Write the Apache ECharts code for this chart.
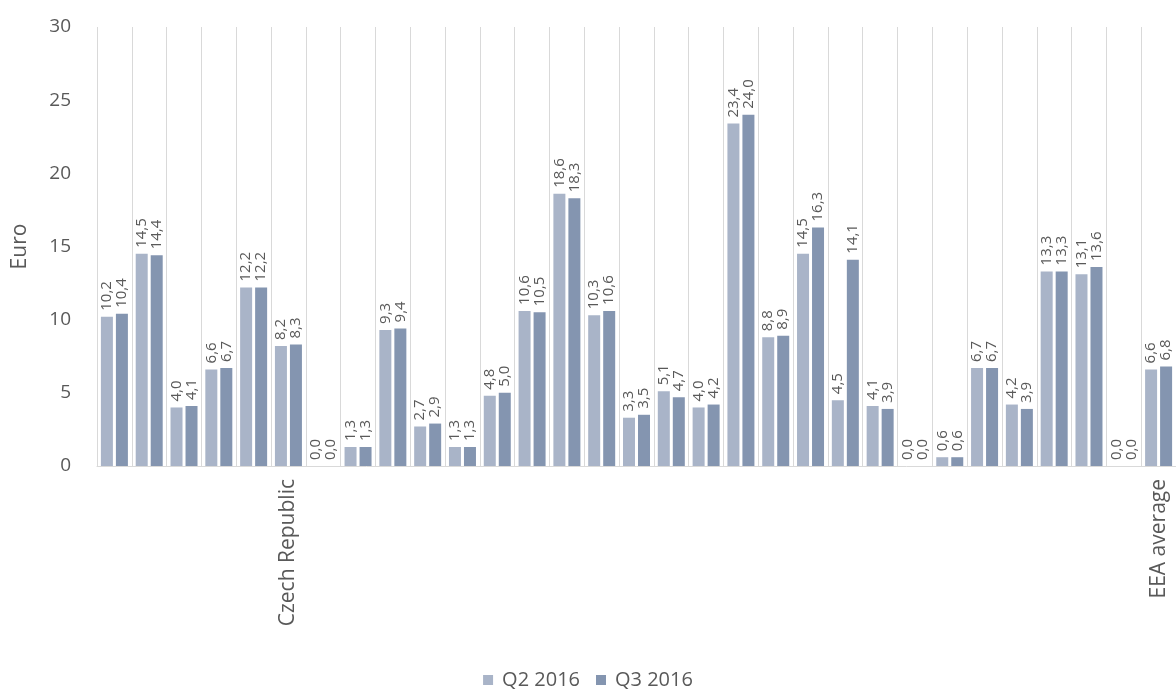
<!DOCTYPE html>
<html>
<head>
<meta charset="utf-8">
<script src="https://cdn.jsdelivr.net/npm/echarts@6/dist/echarts.min.js"></script>
<style>
  html, body { margin: 0; padding: 0; background: #fff; }
  #main { width: 1176px; height: 693px; }
</style>
</head>
<body>
<div id="main"></div>
<script>
// categories: only two names are readable in the picture
var categories = ['', '', '', '', '', 'Czech Republic', '', '', '', '', '', '', '', '', '', '',
    '', '', '', '', '', '', '', '', '', '', '', '', '', '', 'EEA average'];
var q2 = [10.2, 14.5, 4.0, 6.6, 12.2, 8.2, 0.0, 1.3, 9.3, 2.7, 1.3, 4.8, 10.6, 18.6, 10.3, 3.3,
    5.1, 4.0, 23.4, 8.8, 14.5, 4.5, 4.1, 0.0, 0.6, 6.7, 4.2, 13.3, 13.1, 0.0, 6.6];
var q3 = [10.4, 14.4, 4.1, 6.7, 12.2, 8.3, 0.0, 1.3, 9.4, 2.9, 1.3, 5.0, 10.5, 18.3, 10.6, 3.5,
    4.7, 4.2, 24.0, 8.9, 16.3, 14.1, 3.9, 0.0, 0.6, 6.7, 3.9, 13.3, 13.6, 0.0, 6.8];
var yTicks = [0, 5, 10, 15, 20, 25, 30];

var txt = '#595959';
var font = '"Open Sans", "Noto Sans", sans-serif';

var myChart = echarts.init(document.getElementById('main'));

function barLabel() {
    return {
        show: true,
        position: 'top',
        rotate: 90,
        align: 'left',
        verticalAlign: 'middle',
        distance: 6,
        color: txt,
        fontSize: 15,
        fontFamily: font,
        formatter: function (p) {
            return p.value.toFixed(1).replace('.', ',');
        }
    };
}

option = {
    animation: false,
    grid: { left: 97, right: -9, top: 27, bottom: 227 },
    legend: {
        data: ['Q2 2016', 'Q3 2016'],
        bottom: -2,
        left: 'center',
        icon: 'rect',
        itemWidth: 10,
        itemHeight: 10,
        itemGap: 16,
        textStyle: { color: txt, fontSize: 20, fontFamily: font, padding: [0, 0, 0, 4] }
    },
    xAxis: {
        type: 'category',
        data: categories,
        axisLine: { show: true, lineStyle: { color: '#d9d9d9' } },
        axisTick: { show: false },
        splitLine: { show: true, interval: 0, lineStyle: { color: '#d9d9d9', width: 1 } },
        axisLabel: {
            interval: 0,
            rotate: 90,
            margin: 13,
            color: txt,
            fontSize: 21,
            fontFamily: font
        }
    },
    yAxis: {
        type: 'value',
        min: yTicks[0],
        max: yTicks[yTicks.length - 1],
        interval: 5,
        name: 'Euro',
        nameLocation: 'middle',
        nameGap: 66,
        nameTextStyle: { color: txt, fontSize: 21, fontFamily: font },
        axisLine: { show: false },
        axisTick: { show: false },
        splitLine: { show: false },
        axisLabel: { color: txt, fontSize: 19, fontFamily: font, margin: 26 }
    },
    series: [{
        name: 'Q2 2016',
        type: 'bar',
        data: q2,
        barWidth: 12,
        barGap: '25%',
        itemStyle: { color: '#a9b4c8' },
        label: barLabel()
    }, {
        name: 'Q3 2016',
        type: 'bar',
        data: q3,
        barWidth: 12,
        itemStyle: { color: '#8495b0' },
        label: barLabel()
    }]
};

myChart.setOption(option);
</script>
</body>
</html>
